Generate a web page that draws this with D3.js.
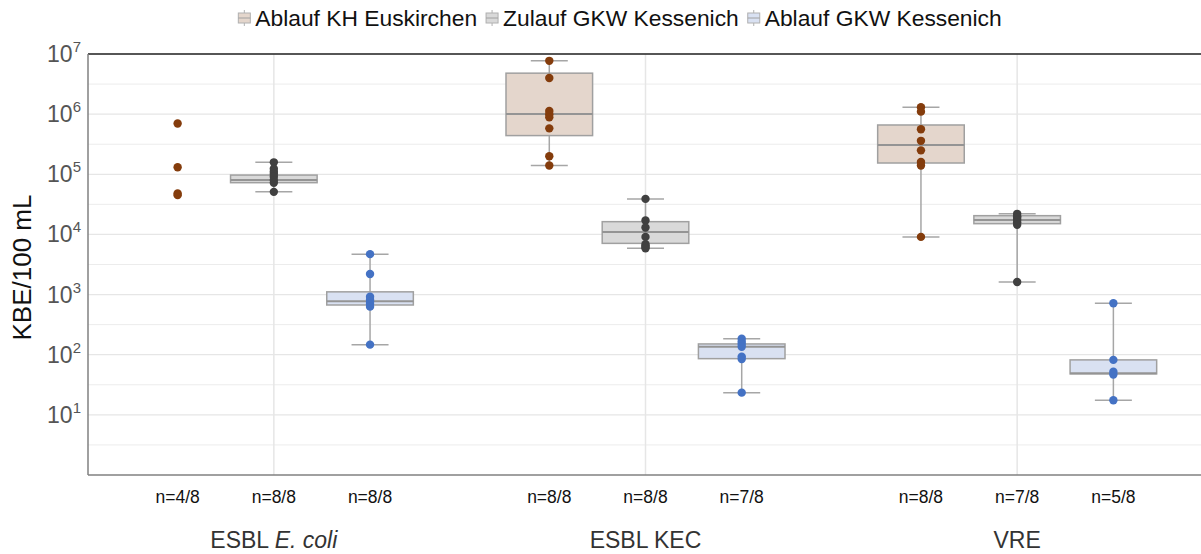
<!DOCTYPE html>
<html>
<head>
<meta charset="utf-8">
<script src="https://cdn.jsdelivr.net/npm/d3@7"></script>
<style>
  body { margin: 0; background: #fff; }
  svg text { font-family: "Liberation Sans", Arial, sans-serif; }
</style>
</head>
<body>
<div id="chart"></div>
<script>
// categories
var groups = ["ESBL E. coli", "ESBL KEC", "VRE"];
var series = ["Ablauf KH Euskirchen", "Zulauf GKW Kessenich", "Ablauf GKW Kessenich"];

// n labels, per group, per series
var nLabels = [
  ["n=4/8", "n=8/8", "n=8/8"],
  ["n=8/8", "n=8/8", "n=7/8"],
  ["n=8/8", "n=7/8", "n=5/8"]
];

// single values (KBE/100 mL), per group
var ablaufKH = [
  [7.0e5, 1.31e5, 4.8e4, 4.5e4],
  [7.7e6, 4.0e6, 1.13e6, 1.0e6, 8.9e5, 5.8e5, 2.0e5, 1.4e5],
  [1.3e6, 1.1e6, 5.6e5, 3.6e5, 2.5e5, 1.6e5, 1.4e5, 9.1e3]
];
var zulaufGKW = [
  [1.58e5, 1.24e5, 1.1e5, 1.01e5, 9.1e4, 8.0e4, 7.2e4, 5.1e4],
  [3.9e4, 1.7e4, 1.3e4, 9.1e3, 6.9e3, 6.5e3, 6.2e3, 5.9e3],
  [2.2e4, 2.0e4, 1.9e4, 1.74e4, 1.6e4, 1.45e4, 1.62e3]
];
var ablaufGKW = [
  [4.7e3, 2.2e3, 920, 820, 760, 700, 630, 147],
  [185, 165, 150, 136, 93, 85, 23.4],
  [716, 82, 52, 47, 17.5]
];

// box stats [lower whisker, q1, median, q3, upper whisker]; null = no box
var ablaufKHBox = [
  null,
  [1.4e5, 4.4e5, 1.01e6, 4.8e6, 7.7e6],
  [9.1e3, 1.54e5, 3.07e5, 6.6e5, 1.3e6]
];
var zulaufGKWBox = [
  [5.1e4, 7.25e4, 8.0e4, 9.7e4, 1.58e5],
  [5.9e3, 7.1e3, 1.1e4, 1.63e4, 3.9e4],
  [1.62e3, 1.51e4, 1.74e4, 2.05e4, 2.2e4]
];
var ablaufGKWBox = [
  [147, 671, 773, 1.11e3, 4.7e3],
  [23.4, 86, 136, 151, 185],
  [17.5, 48, 49, 82, 716]
];

var yTicks = [1e1, 1e2, 1e3, 1e4, 1e5, 1e6, 1e7];

var pointsBySeries = [ablaufKH, zulaufGKW, ablaufGKW];
var boxBySeries = [ablaufKHBox, zulaufGKWBox, ablaufGKWBox];
var fills = ["#e4d6cc", "#d9d9d9", "#d9e1f2"];
var dotColors = ["#843c0c", "#404040", "#4472c4"];

var W = 1201, H = 554;
var margin = {top: 54, right: -2, bottom: 79, left: 88};

var svg = d3.select("#chart").append("svg")
    .attr("width", W)
    .attr("height", H);

var x = d3.scaleBand()
    .domain(groups)
    .range([margin.left, W - margin.right]);

var xs = d3.scaleBand()
    .domain(series)
    .range([x.bandwidth() / 2 - 139.5, x.bandwidth() / 2 + 139.5])
    .paddingInner(0.1);

var y = d3.scaleLog()
    .domain([1, 1e7])
    .range([H - margin.bottom, margin.top]);

// gridlines, major + half decade
var grid = svg.append("g");
var minor = d3.range(0, 7).map(function(k) { return Math.pow(10, k + 0.5); });
grid.selectAll("line.minor").data(minor).enter().append("line")
    .attr("x1", margin.left).attr("x2", W)
    .attr("y1", function(d) { return y(d); }).attr("y2", function(d) { return y(d); })
    .attr("stroke", "#ececec").attr("stroke-width", 1);
grid.selectAll("line.major").data(yTicks).enter().append("line")
    .attr("x1", margin.left).attr("x2", W)
    .attr("y1", function(d) { return y(d); }).attr("y2", function(d) { return y(d); })
    .attr("stroke", "#e6e6e6").attr("stroke-width", 1.2);
grid.selectAll("line.vert").data(groups).enter().append("line")
    .attr("x1", function(d) { return x(d) + x.bandwidth() / 2; })
    .attr("x2", function(d) { return x(d) + x.bandwidth() / 2; })
    .attr("y1", margin.top).attr("y2", H - margin.bottom)
    .attr("stroke", "#e6e6e6").attr("stroke-width", 1.5);

// frame
svg.append("line").attr("x1", margin.left).attr("x2", W)
    .attr("y1", margin.top).attr("y2", margin.top)
    .attr("stroke", "#222").attr("stroke-width", 1.3);
svg.append("line").attr("x1", margin.left).attr("x2", margin.left)
    .attr("y1", margin.top).attr("y2", H - margin.bottom)
    .attr("stroke", "#808080").attr("stroke-width", 1.5);
svg.append("line").attr("x1", margin.left).attr("x2", W)
    .attr("y1", H - margin.bottom).attr("y2", H - margin.bottom)
    .attr("stroke", "#808080").attr("stroke-width", 1.5);

// y tick labels 10^k
var yl = svg.append("g");
yTicks.forEach(function(t) {
  var txt = yl.append("text")
      .attr("x", 81).attr("y", y(t) + 8)
      .attr("text-anchor", "end")
      .attr("font-size", 23)
      .attr("fill", "#555");
  txt.append("tspan").text("10");
  txt.append("tspan").attr("dy", -10).attr("font-size", 15).text(Math.round(Math.log10(t)));
});

svg.append("text")
    .attr("transform", "translate(31," + ((margin.top + H - margin.bottom) / 2 + 3) + ") rotate(-90)")
    .attr("text-anchor", "middle")
    .attr("font-size", 26)
    .attr("fill", "#111")
    .text("KBE/100 mL");

// boxes
var cap = 37;
groups.forEach(function(g, gi) {
  series.forEach(function(s, si) {
    var cx = x(g) + xs(s) + xs.bandwidth() / 2;
    var b = boxBySeries[si][gi];
    var node = svg.append("g");
    if (b) {
      node.append("line").attr("x1", cx).attr("x2", cx)
          .attr("y1", y(b[0])).attr("y2", y(b[4]))
          .attr("stroke", "#a6a6a6").attr("stroke-width", 1.5);
      [b[0], b[4]].forEach(function(v) {
        node.append("line").attr("x1", cx - cap / 2).attr("x2", cx + cap / 2)
            .attr("y1", y(v)).attr("y2", y(v))
            .attr("stroke", "#a6a6a6").attr("stroke-width", 1.5);
      });
      node.append("rect")
          .attr("x", cx - xs.bandwidth() / 2).attr("width", xs.bandwidth())
          .attr("y", y(b[3])).attr("height", y(b[1]) - y(b[3]))
          .attr("fill", fills[si]).attr("stroke", "#a0a0a0").attr("stroke-width", 1.5);
      node.append("line").attr("x1", cx - xs.bandwidth() / 2).attr("x2", cx + xs.bandwidth() / 2)
          .attr("y1", y(b[2])).attr("y2", y(b[2]))
          .attr("stroke", "#949494").attr("stroke-width", 2);
    }
    node.selectAll("circle").data(pointsBySeries[si][gi]).enter().append("circle")
        .attr("cx", cx).attr("cy", function(d) { return y(d); })
        .attr("r", 4.2)
        .attr("fill", dotColors[si]);

    svg.append("text")
        .attr("x", cx).attr("y", 503)
        .attr("text-anchor", "middle")
        .attr("font-size", 17.5)
        .attr("fill", "#111")
        .text(nLabels[gi][si]);
  });

  // group label, E. coli italic
  var gl = svg.append("text")
      .attr("x", x(g) + x.bandwidth() / 2).attr("y", 548)
      .attr("text-anchor", "middle")
      .attr("font-size", 23)
      .attr("fill", "#333");
  if (g === "ESBL E. coli") {
    gl.append("tspan").text("ESBL ");
    gl.append("tspan").attr("font-style", "italic").text("E. coli");
  } else {
    gl.text(g);
  }
});

// legend
var leg = svg.append("g");
var lx = 0;
series.forEach(function(s, si) {
  var it = leg.append("g").attr("transform", "translate(" + lx + ",0)");
  it.append("line").attr("x1", 6).attr("x2", 6).attr("y1", 10).attr("y2", 26)
      .attr("stroke", "#b0b0b0").attr("stroke-width", 1);
  it.append("rect").attr("x", 0).attr("y", 13).attr("width", 12).attr("height", 10)
      .attr("fill", fills[si]).attr("stroke", "#b0b0b0").attr("stroke-width", 1);
  it.append("line").attr("x1", 0).attr("x2", 12).attr("y1", 18).attr("y2", 18)
      .attr("stroke", "#a0a0a0").attr("stroke-width", 1);
  var t = it.append("text").attr("x", 17).attr("y", 26)
      .attr("font-size", 22.8).attr("fill", "#111").text(s);
  lx += 17 + t.node().getComputedTextLength() + 9;
});
lx -= 9;
leg.attr("transform", "translate(" + (620 - lx / 2) + ",0)");
</script>
</body>
</html>
